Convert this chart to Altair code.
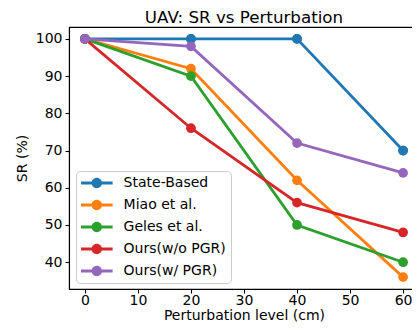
import altair as alt
import pandas as pd

# ---- data ----
perturbation_levels = [0, 20, 40, 60]
method_names = ["State-Based", "Miao et al.", "Geles et al.", "Ours(w/o PGR)", "Ours(w/ PGR)"]
sr_state_based = [100, 100, 100, 70]
sr_miao = [100, 92, 62, 36]
sr_geles = [100, 90, 50, 40]
sr_ours_wo_pgr = [100, 76, 56, 48]
sr_ours_w_pgr = [100, 98, 72, 64]
method_colors = ["#1f77b4", "#ff7f0e", "#2ca02c", "#d62728", "#9467bd"]
x_tick_values = [0, 10, 20, 30, 40, 50, 60]
y_tick_values = [40, 50, 60, 70, 80, 90, 100]

series_values = [sr_state_based, sr_miao, sr_geles, sr_ours_wo_pgr, sr_ours_w_pgr]
rows = []
for name, vals in zip(method_names, series_values):
    for lvl, v in zip(perturbation_levels, vals):
        rows.append({"level": lvl, "sr": v, "method": name})
df = pd.DataFrame(rows)

FONT = "DejaVu Sans"
xscale = alt.Scale(domain=[-3, 63], nice=False, zero=False)
yscale = alt.Scale(domain=[32.8, 103.2], nice=False, zero=False)
cscale = alt.Scale(domain=method_names, range=method_colors)

# legend handle: line with a dot, units = 7px (symbolSize 196)
legend_symbol = ("M-2.26,-0.2L2.26,-0.2L2.26,0.2L-2.26,0.2Z "
                 "M0.74,0A0.74,0.74,0,1,1,-0.74,0A0.74,0.74,0,1,1,0.74,0Z")

xenc = alt.X("level:Q", scale=xscale,
             axis=alt.Axis(values=x_tick_values, title="Perturbation level (cm)"))
yenc = alt.Y("sr:Q", scale=yscale,
             axis=alt.Axis(values=y_tick_values, title="SR (%)"))

legend_def = alt.Legend(title=None, orient="none", legendX=7, legendY=144)

layers = []
for i, name in enumerate(method_names):
    sub = alt.Chart(df).transform_filter(alt.datum.method == name)
    line = sub.mark_line(strokeWidth=2.8).encode(
        x=xenc, y=yenc,
        color=alt.Color("method:N", scale=cscale, legend=None),
    )
    pts = sub.mark_point(filled=True, size=95, opacity=1).encode(
        x=xenc, y=yenc,
        color=alt.Color("method:N", scale=cscale, sort=method_names,
                        legend=legend_def),
    )
    if i == 0:
        layers.append(pts)
    layers += [line, pts]

chart = alt.layer(*layers).properties(
    width=350, height=262,
    title=alt.TitleParams("UAV: SR vs Perturbation", fontSize=16.7, font=FONT,
                          fontWeight="normal", color="black", anchor="middle",
                          frame="group", offset=0),
    autosize=alt.AutoSizeParams(type="none"),
    padding={"left": 61, "top": 19, "right": -7, "bottom": 34},
).configure_view(
    stroke="black", strokeWidth=1.1
).configure_axis(
    grid=False, domainColor="black", domainWidth=1.1, tickColor="black",
    tickSize=4, tickWidth=1.1, labelFont=FONT, labelFontSize=14,
    labelColor="black", labelPadding=0, titleFont=FONT, titleFontSize=14,
    titleFontWeight="normal", titleColor="black",
).configure_axisX(
    titlePadding=1.5,
).configure_axisY(
    labelPadding=3, titlePadding=6,
).configure_legend(
    symbolType=legend_symbol, symbolSize=196, symbolStrokeWidth=0,
    symbolOpacity=1, symbolOffset=8.8,
    labelFont=FONT, labelFontSize=14, labelColor="black", labelOffset=19.8,
    rowPadding=8, padding=5, strokeColor="#cccccc", fillColor="rgba(255,255,255,0.8)",
    cornerRadius=4,
)

chart.save("out.html", embed_options={"renderer": "svg", "actions": False})
